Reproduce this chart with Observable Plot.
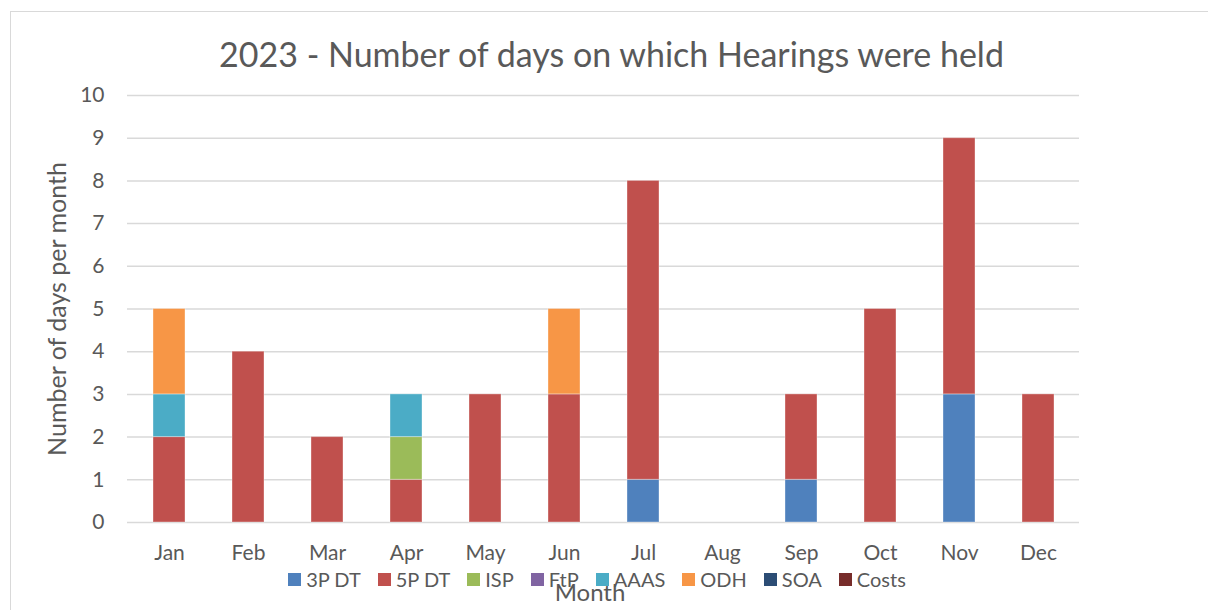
<!DOCTYPE html>
<html><head><meta charset="utf-8">
<script src="https://cdn.jsdelivr.net/npm/d3@7"></script>
<script src="https://cdn.jsdelivr.net/npm/@observablehq/plot@0.6"></script>
<style>
body{margin:0;background:#fff;font-family:Lato,"Open Sans",sans-serif;}
#wrap{position:relative;width:1208px;height:610px;overflow:hidden;background:#fff;}
#frame{position:absolute;left:10px;top:11px;width:1400px;height:800px;border-left:1.5px solid #d9d9d9;border-top:1.5px solid #d9d9d9;box-sizing:border-box;}
#title{position:absolute;top:33px;left:0;width:1223px;text-align:center;font-size:34px;color:#595959;line-height:42px;white-space:nowrap;}
#chart{position:absolute;left:0;top:0;}
#legend{position:absolute;top:568px;left:0;width:1194px;display:flex;justify-content:center;gap:17px;font-size:20px;color:#595959;line-height:22px;}
#legend .item{display:flex;align-items:center;gap:5px;}
#legend .sw{width:13px;height:13px;display:inline-block;}
#xlabel{position:absolute;top:578px;left:0;width:1180px;text-align:center;font-size:24px;color:#595959;line-height:28px;}
</style></head>
<body>
<div id="wrap">
  <div id="frame"></div>
  <div id="chart"></div>
  <div id="title"></div>
  <div id="xlabel"></div>
  <div id="legend"></div>
</div>
<script>
const titleText = "2023 - Number of days on which Hearings were held";
const yLabel = "Number of days per month";
const xLabel = "Month";
const months = ["Jan","Feb","Mar","Apr","May","Jun","Jul","Aug","Sep","Oct","Nov","Dec"];
const seriesNames = ["3P DT","5P DT","ISP","FtP","AAAS","ODH","SOA","Costs"];
const seriesColors = ["#4F81BD","#C0504D","#9BBB59","#8064A2","#4BACC6","#F79646","#2C4D75","#772C2A"];
const yTicks = [0,1,2,3,4,5,6,7,8,9,10];

const v3PDT  = [0,0,0,0,0,0,1,0,1,0,3,0];
const v5PDT  = [2,4,2,1,3,3,7,0,2,5,6,3];
const vISP   = [0,0,0,1,0,0,0,0,0,0,0,0];
const vFtP   = [0,0,0,0,0,0,0,0,0,0,0,0];
const vAAAS  = [1,0,0,1,0,0,0,0,0,0,0,0];
const vODH   = [2,0,0,0,0,2,0,0,0,0,0,0];
const vSOA   = [0,0,0,0,0,0,0,0,0,0,0,0];
const vCosts = [0,0,0,0,0,0,0,0,0,0,0,0];
const allValues = [v3PDT, v5PDT, vISP, vFtP, vAAAS, vODH, vSOA, vCosts];

const data = [];
seriesNames.forEach((s, i) => {
  months.forEach((m, j) => {
    if (allValues[i][j] > 0) data.push({month: m, series: s, value: allValues[i][j]});
  });
});

document.getElementById("title").textContent = titleText;
document.getElementById("xlabel").textContent = xLabel;

const chart = Plot.plot({
  width: 1208,
  height: 610,
  marginLeft: 127,
  marginRight: 129,
  marginTop: 95,
  marginBottom: 88,
  style: {fontFamily: "Lato, 'Open Sans', sans-serif", fontSize: "21px", color: "#595959", background: "transparent"},
  x: {domain: months, paddingInner: 0.6, paddingOuter: 0.3, label: null, tickSize: 0, tickPadding: 23},
  y: {domain: [0, 10], ticks: yTicks, label: null, tickSize: 0, tickPadding: 23, tickFormat: d => String(d)},
  color: {domain: seriesNames, range: seriesColors},
  marks: [
    Plot.ruleY(yTicks, {stroke: "#d9d9d9", strokeWidth: 1.5}),
    Plot.barY(data, {x: "month", y: "value", fill: "series", stroke: "#fff", strokeOpacity: 0.35, strokeWidth: 1}),
    Plot.text([yLabel], {frameAnchor: "left", textAnchor: "middle", lineAnchor: "middle", rotate: -90, dx: -70, fontSize: 25, fill: "#595959", text: d => d})
  ]
});
document.getElementById("chart").appendChild(chart);

const legend = document.getElementById("legend");
seriesNames.forEach((s, i) => {
  const item = document.createElement("div");
  item.className = "item";
  const sw = document.createElement("span");
  sw.className = "sw";
  sw.style.background = seriesColors[i];
  const t = document.createElement("span");
  t.textContent = s;
  item.appendChild(sw);
  item.appendChild(t);
  legend.appendChild(item);
});
</script>
</body></html>
